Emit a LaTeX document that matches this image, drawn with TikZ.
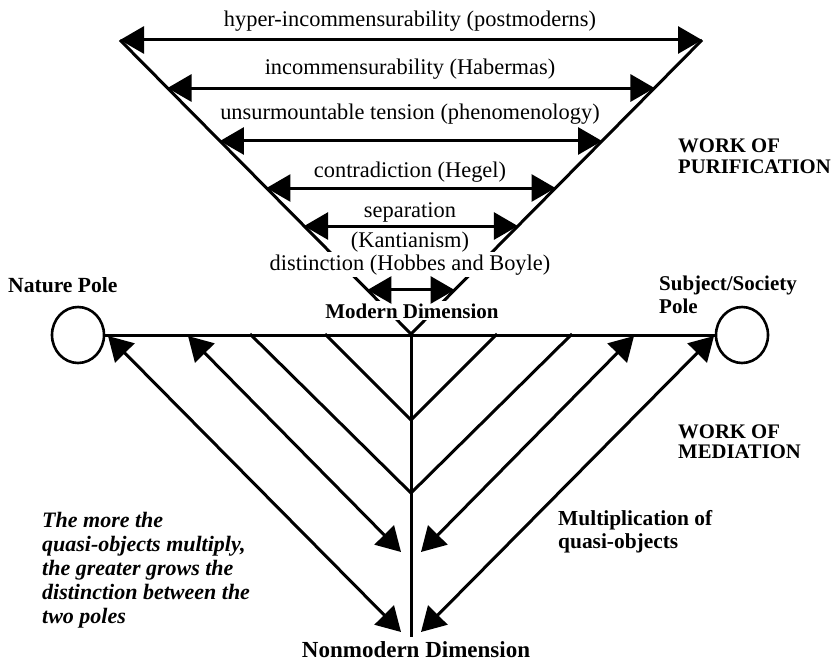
\documentclass[tikz,border=0pt]{standalone}
\usepackage{fontspec}
\setmainfont{Liberation Serif}
\usetikzlibrary{arrows.meta,shapes.geometric,calc}
\begin{document}
\begin{tikzpicture}[x=1pt,y=-1pt,
  ln/.style={line width=3pt},
  dbl/.style={ln,{Triangle[length=24pt,width=27pt]}-{Triangle[length=24pt,width=27pt]}},
  lbl/.style={font=\fontsize{22.4}{26}\selectfont, inner sep=0pt, anchor=base},
  wlbl/.style={font=\fontsize{22.4}{26}\selectfont, fill=white, inner sep=2pt, anchor=base},
  boldlbl/.style={inner sep=0pt, align=left, anchor=base west},
  pole/.style={draw, ellipse, line width=2.6pt, minimum width=52pt, minimum height=56pt, inner sep=0pt}
]
\useasboundingbox (0,0) rectangle (834,666);
% purification V
\coordinate (TL) at (120,40);
\coordinate (TR) at (702,40);
\coordinate (AP) at (411,334);
\draw[ln, line join=miter] (TL) -- (AP) -- (TR);
% mediation structure
\node[pole] (NP) at (78,335) {};
\node[pole] (SP) at (742,335) {};
\draw[ln] (NP.east) -- (SP.west);
\coordinate (VB) at (411,637);
\draw[ln] (AP) -- (VB);
\coordinate (L1a) at (108,336); \coordinate (L1b) at (401,632);
\coordinate (L2a) at (188,336); \coordinate (L2b) at (401,552);
\coordinate (L3a) at (250,334); \coordinate (J3) at (411,493);
\coordinate (L4a) at (325,334); \coordinate (J4) at (411,420);
\coordinate (R1a) at (714,336); \coordinate (R1b) at (421,632);
\coordinate (R2a) at (634,336); \coordinate (R2b) at (421,552);
\coordinate (R3a) at (572,334);
\coordinate (R4a) at (497,334);
\draw[ln] (L3a) -- (J3) -- (R3a);
\draw[ln] (L4a) -- (J4) -- (R4a);
\draw[dbl] (L1a) -- (L1b);
\draw[dbl] (L2a) -- (L2b);
\draw[dbl] (R1a) -- (R1b);
\draw[dbl] (R2a) -- (R2b);
% white labels interrupting the V
\node[wlbl] (dist) at (410,270) {distinction (Hobbes and Boyle)};
\node[wlbl, font=\fontsize{21}{24}\selectfont\bfseries] (modern) at (412,318) {Modern Dimension};
% arrows of purification
\path (TL) -- (AP) coordinate[pos=0.1633] (a2l) coordinate[pos=0.3435] (a3l) coordinate[pos=0.5034] (a4l) coordinate[pos=0.6327] (a5l) coordinate[pos=0.8503] (a6l);
\path (TR) -- (AP) coordinate[pos=0.1633] (a2r) coordinate[pos=0.3435] (a3r) coordinate[pos=0.5034] (a4r) coordinate[pos=0.6327] (a5r) coordinate[pos=0.8503] (a6r);
\draw[dbl] (TL) -- (TR);
\draw[dbl] (a2l) -- (a2r);
\draw[dbl] (a3l) -- (a3r);
\draw[dbl] (a4l) -- (a4r);
\draw[dbl] (a5l) -- (a5r);
\draw[dbl] (a6l) -- (a6r);
% labels
\node[lbl] (hyper) at (410,27) {hyper-incommensurability (postmoderns)};
\node[lbl] (incom) at (410,75) {incommensurability (Habermas)};
\node[lbl] (unsur) at (410,120) {unsurmountable tension (phenomenology)};
\node[lbl] (contr) at (410,177) {contradiction (Hegel)};
\node[lbl] (sepa) at (410,217) {separation};
\node[lbl] (kant) at (410,247) {(Kantianism)};
\node[lbl, font=\fontsize{23}{26}\selectfont\bfseries] (nonmod) at (416,657) {Nonmodern Dimension};
\node[boldlbl, font=\fontsize{21.6}{23}\selectfont\bfseries] (natl) at (8,292) {Nature Pole};
\node[boldlbl, font=\fontsize{21}{23}\selectfont\bfseries] (socl) at (659,313) {Subject/Society\\Pole};
\node[boldlbl, font=\fontsize{20.7}{21}\selectfont\bfseries] (purif) at (678,173) {WORK OF\\PURIFICATION};
\node[boldlbl, font=\fontsize{20.7}{20}\selectfont\bfseries] (medi) at (678,458) {WORK OF\\MEDIATION};
\node[boldlbl, font=\fontsize{21.4}{23}\selectfont\bfseries] (mult) at (558,548) {Multiplication of\\quasi-objects};
\node[boldlbl, font=\fontsize{22}{24}\selectfont\bfseries\itshape] (more) at (42,623) {The more the\\quasi-objects multiply,\\the greater grows the\\distinction between the\\two poles};
\end{tikzpicture}
\end{document}
